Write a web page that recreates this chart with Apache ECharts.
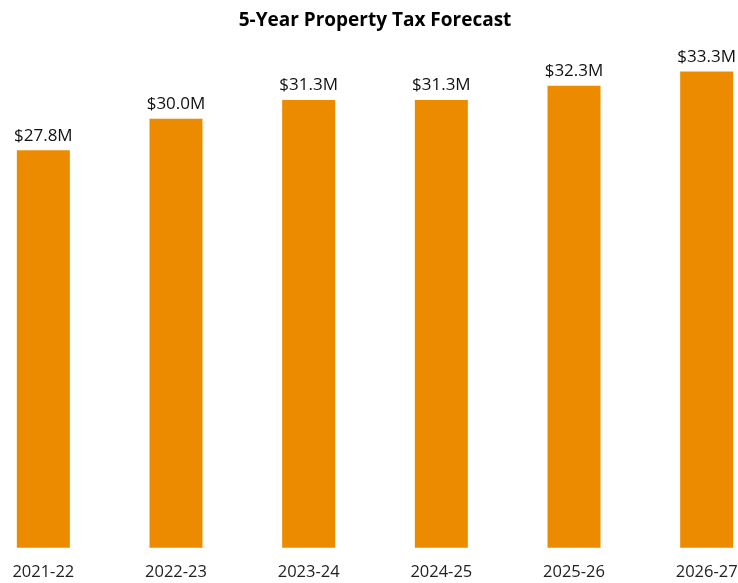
<!DOCTYPE html>
<html>
<head>
<meta charset="utf-8">
<script src="https://cdn.jsdelivr.net/npm/echarts@6/dist/echarts.min.js"></script>
<style>
  html, body { margin: 0; padding: 0; background: #fff; overflow: hidden; }
  body { width: 738px; height: 583px; position: relative; }
  /* plot area runs past both edges of the window, as in the source image */
  #chart { position: absolute; left: -23px; top: 0; width: 796px; height: 583px; }
</style>
</head>
<body>
<div id="chart"></div>
<script>
const years = ['2021-22', '2022-23', '2023-24', '2024-25', '2025-26', '2026-27'];
const taxMillions = [27.8, 30.0, 31.3, 31.3, 32.3, 33.3];

const chart = echarts.init(document.getElementById('chart'));

const option = {
  animation: false,
  title: {
    text: '5-Year Property Tax Forecast',
    left: 'center',
    top: 6,
    textStyle: {
      fontFamily: 'Open Sans',
      fontWeight: 'bold',
      fontSize: 19,
      color: '#000',
    },
  },
  grid: {
    left: 0,
    right: 0,
    top: 47.2,
    bottom: 35.3,
    containLabel: false,
  },
  xAxis: {
    type: 'category',
    data: years,
    axisLine: { show: false },
    axisTick: { show: false },
    axisLabel: {
      margin: 16,
      fontFamily: 'Open Sans',
      fontSize: 16.5,
      color: '#222',
    },
  },
  yAxis: {
    type: 'value',
    min: 0,
    max: 35,
    show: false,
    splitLine: { show: false },
  },
  series: [
    {
      type: 'bar',
      data: taxMillions,
      barWidth: 53,
      itemStyle: { color: '#ED8B00' },
      label: {
        show: true,
        position: 'top',
        distance: 6,
        fontFamily: 'Open Sans',
        fontSize: 17,
        color: '#111',
        formatter: function(p) {
          return '$' + p.value.toFixed(1) + 'M';
        },
      },
    },
  ],
};

chart.setOption(option);
</script>
</body>
</html>
